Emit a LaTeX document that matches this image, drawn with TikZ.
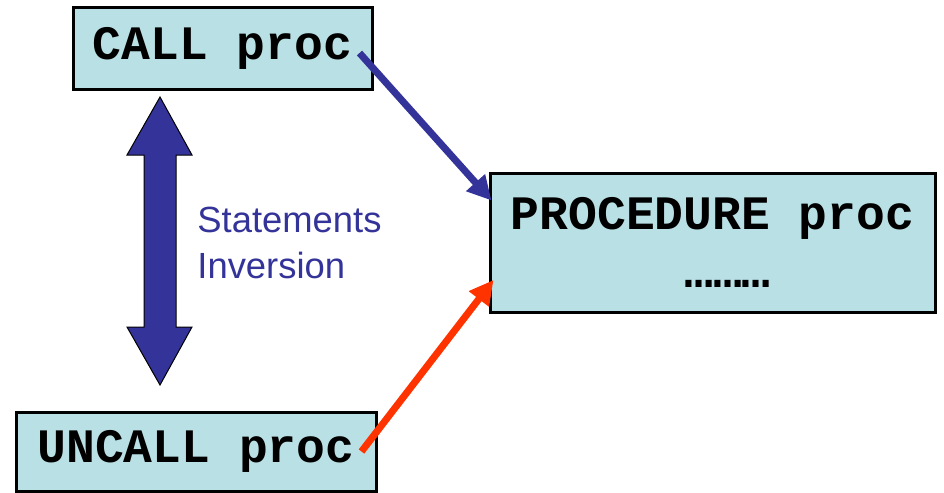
\documentclass[tikz,border=0pt]{standalone}
\usepackage{fontspec}
\setmainfont{Liberation Sans}
\setmonofont{Liberation Mono}
\usetikzlibrary{arrows.meta}
\definecolor{boxfill}{RGB}{185,224,228}
\definecolor{navy}{RGB}{51,51,153}
\definecolor{redlink}{RGB}{255,51,0}
\begin{document}
\begin{tikzpicture}[x=0.5pt, y=-0.5pt,
  codebox/.style={draw=black, line width=1.5pt, fill=boxfill, inner sep=0pt, align=center,
    font=\fontsize{24}{29}\selectfont\ttfamily\bfseries},
  link/.style={line width=3.5pt, -{Triangle[length=12pt, width=12pt]}}]
\useasboundingbox (0,0) rectangle (944,493);
\node [codebox, minimum width=149.5pt, minimum height=41pt] (call) at (222.5,48) {CALL proc};
\node [codebox, minimum width=222.5pt, minimum height=69.5pt] (proc) at (712.5,242.5) {PROCEDURE proc\\\hspace*{15pt}………};
\node [codebox, minimum width=180pt, minimum height=39.5pt] (uncall) at (196,451.5) {UNCALL proc};
\draw [fill=navy, line width=0.5pt] (160,97) -- (192,155) -- (176,155) -- (176,327) -- (192,327) -- (160,385) -- (127,327) -- (144,327) -- (144,155) -- (127,155) -- cycle;
\node [navy, anchor=base west, align=left, inner sep=0pt, font=\fontsize{18.2}{23}\selectfont] (inv) at (197,278) {Statements\\Inversion};
\draw [link, navy] ([xshift=-7pt, yshift=-2.5pt]call.east) -- ([xshift=1.5pt, yshift=21pt]proc.west);
\draw [link, redlink] ([xshift=-8pt]uncall.east) -- ([xshift=2.5pt, yshift=-18.75pt]proc.west);
\end{tikzpicture}
\end{document}
